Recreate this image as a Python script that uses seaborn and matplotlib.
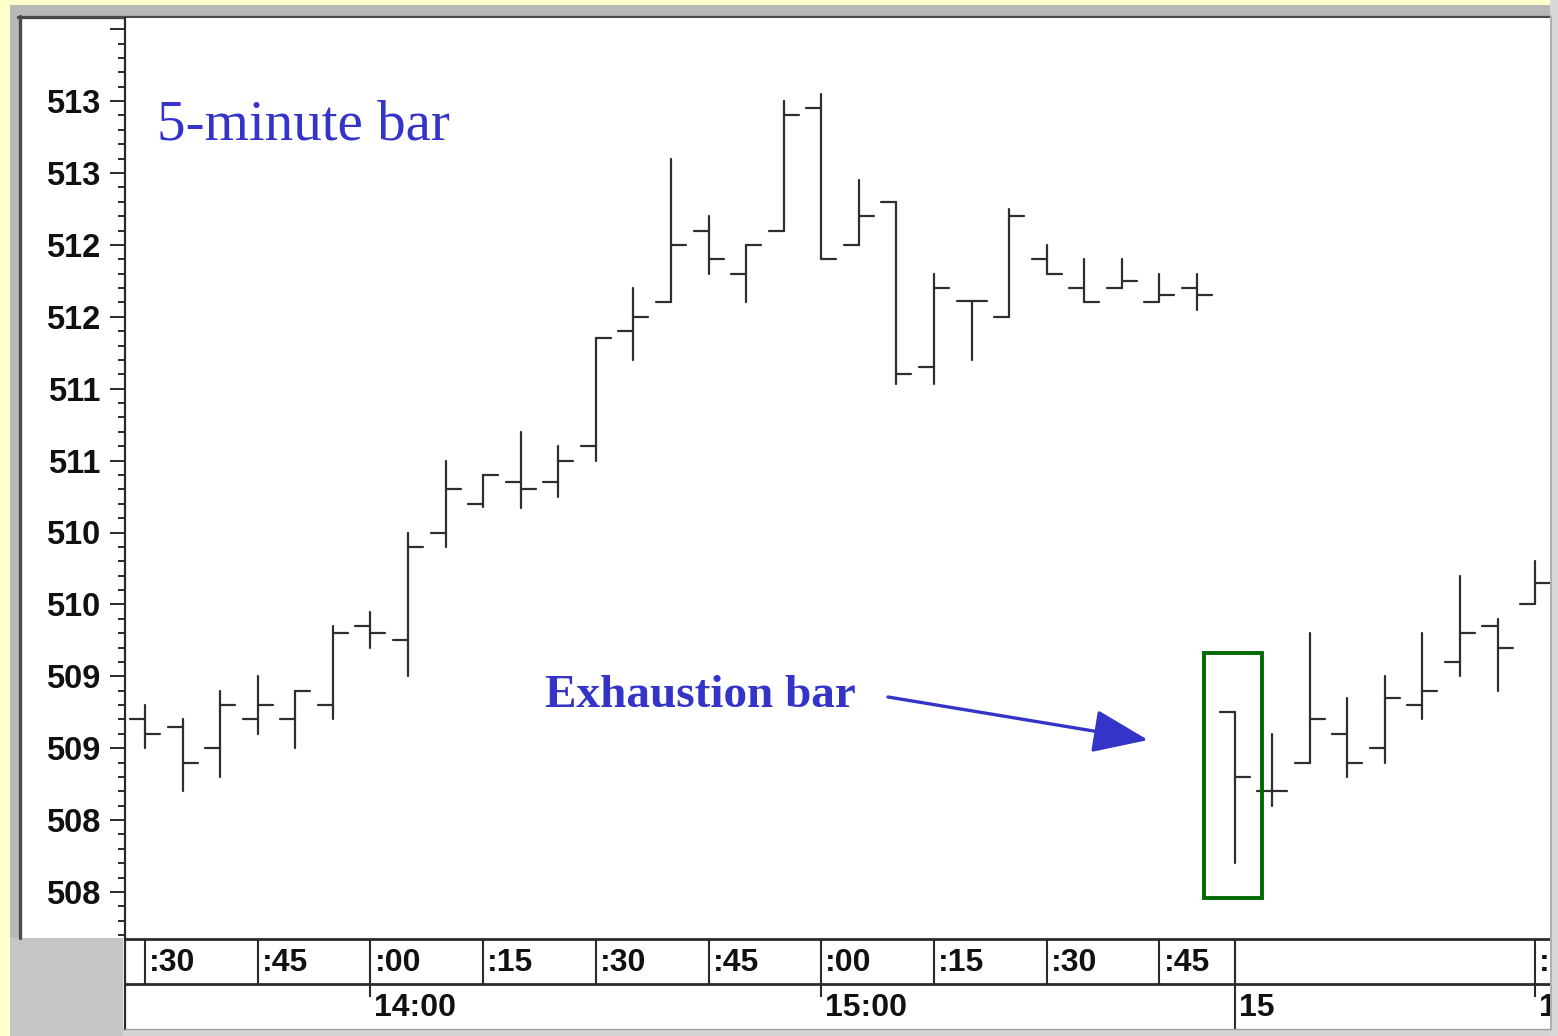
import numpy as np
import pandas as pd
import matplotlib
matplotlib.use("Agg")
import matplotlib.pyplot as plt
from matplotlib.patches import Rectangle
from matplotlib.lines import Line2D
from matplotlib.ticker import MultipleLocator
from matplotlib import transforms
import seaborn as sns

# ---- 5-minute OHLC bars (two sessions, second one starts at bar 29) ----
opens = [508.95, 508.90, 508.75, 508.95, 508.95, 509.05, 509.60, 509.50, 510.25, 510.45,
         510.60, 510.60, 510.85, 511.65, 511.85, 512.35, 512.05, 512.35, 513.20, 512.25,
         512.55, 511.40, 511.86, 511.75, 512.15, 511.95, 511.95, 511.85, 511.95,
         509.00, 508.45, 508.65, 508.85, 508.75, 509.05, 509.35, 509.60, 509.75]
highs = [509.05, 508.95, 509.15, 509.25, 509.15, 509.60, 509.70, 510.25, 510.75, 510.65,
         510.95, 510.85, 511.60, 511.95, 512.85, 512.45, 512.25, 513.25, 513.30, 512.70,
         512.55, 512.05, 511.86, 512.50, 512.25, 512.15, 512.15, 512.05, 512.05,
         509.00, 508.85, 509.55, 509.10, 509.25, 509.55, 509.95, 509.65, 510.05]
lows = [508.75, 508.45, 508.55, 508.85, 508.75, 508.95, 509.45, 509.25, 510.15, 510.43,
        510.42, 510.50, 510.75, 511.45, 511.85, 512.05, 511.85, 512.35, 512.15, 512.25,
        511.28, 511.28, 511.45, 511.75, 512.05, 511.85, 511.95, 511.85, 511.80,
        507.95, 508.35, 508.65, 508.55, 508.65, 508.95, 509.25, 509.15, 509.75]
closes = [508.85, 508.65, 509.05, 509.05, 509.15, 509.55, 509.55, 510.15, 510.55, 510.65,
          510.55, 510.75, 511.60, 511.75, 512.25, 512.15, 512.25, 513.15, 512.15, 512.45,
          511.35, 511.95, 511.86, 512.45, 512.05, 511.85, 512.00, 511.90, 511.90,
          508.55, 508.45, 508.95, 508.65, 509.10, 509.15, 509.55, 509.45, 509.90]

exhaustion_bar = 29

# price axis ticks
ytick_values = [507.75, 508.25, 508.75, 509.25, 509.75, 510.25, 510.75, 511.25,
                511.75, 512.25, 512.75, 513.25, 513.75]
ytick_labels = ["508", "508", "509", "509", "510", "510", "511", "511",
                "512", "512", "513", "513", ""]

# time axis: upper row (quarter hours) and lower row (hours / date);
# the last column sits at the window edge, only its first character shows
minute_ticks = [0, 3, 6, 9, 12, 15, 18, 21, 24, 27, 29, 37]
minute_labels = [":30", ":45", ":00", ":15", ":30", ":45", ":00", ":15", ":30", ":45", "", ":"]
hour_ticks = [6, 18, 29, 37]
hour_labels = ["14:00", "15:00", "15", "1"]
session_breaks = [29]

# ---- styling ----
sns.set_theme(style="white")
plt.rcParams["font.family"] = ["Liberation Sans", "DejaVu Sans"]

W, H = 1558, 1036
BAR_COLOR = "#2e2e2e"
NOTE_BLUE = "#3434C8"
FRAME_DARK = "#4a4a4a"
LABEL_COLOR = "#111111"


def fx(px):
    return px / W


def fy(py):
    return 1 - py / H


fig = plt.figure(figsize=(W / 100, H / 100), dpi=100)
fig.patch.set_facecolor("#FFFFCC")

# window frame behind everything
fig.add_artist(Rectangle((fx(10), fy(1036)), fx(1558) - fx(10), fy(5) - fy(1036),
                         transform=fig.transFigure, facecolor="#B8B8B8", edgecolor="none", zorder=-10))
fig.add_artist(Rectangle((fx(20), fy(938)), fx(1550) - fx(20), fy(18) - fy(938),
                         transform=fig.transFigure, facecolor="white", edgecolor="none", zorder=-9))
fig.add_artist(Rectangle((fx(123), fy(1029)), fx(1550) - fx(123), fy(938) - fy(1029),
                         transform=fig.transFigure, facecolor="white", edgecolor="none", zorder=-9))
fig.add_artist(Rectangle((fx(10), fy(1036)), fx(123) - fx(10), fy(938) - fy(1036),
                         transform=fig.transFigure, facecolor="#C6C6C6", edgecolor="none", zorder=-8))
fig.add_artist(Rectangle((fx(123), fy(1036)), fx(1558) - fx(123), fy(1029) - fy(1036),
                         transform=fig.transFigure, facecolor="#D4D4D4", edgecolor="none", zorder=-8))
fig.add_artist(Line2D([fx(18), fx(1550)], [fy(16.5), fy(16.5)], transform=fig.transFigure,
                      color=FRAME_DARK, lw=2.4, zorder=-7))
fig.add_artist(Line2D([fx(19.5), fx(19.5)], [fy(16), fy(938)], transform=fig.transFigure,
                      color=FRAME_DARK, lw=2.4, zorder=-7))

# ---- price panel ----
ax = fig.add_axes([fx(125), fy(938), fx(1550) - fx(125), fy(18) - fy(938)])
ax.set_facecolor("white")

idx = np.arange(len(opens))
TICK = 0.4

# each bar becomes three short segments: high-low range, open tick, close tick
seg_rows = []
for i in idx:
    seg_rows += [(f"r{i}", i, lows[i]), (f"r{i}", i, highs[i])]
    seg_rows += [(f"o{i}", i - TICK, opens[i]), (f"o{i}", i, opens[i])]
    seg_rows += [(f"c{i}", i, closes[i]), (f"c{i}", i + TICK, closes[i])]
segs = pd.DataFrame(seg_rows, columns=["seg", "x", "price"])

sns.lineplot(data=segs, x="x", y="price", units="seg", estimator=None, sort=False,
             color=BAR_COLOR, lw=1.6, legend=False, ax=ax)

x_left = (125 - 145) / 37.57
x_right = (1550 - 145) / 37.57
ax.set_xlim(x_left, x_right)
ax.set_ylim(507.75 - 46 / 143.8, 507.75 + 874 / 143.8)

ax.set_xlabel("")
ax.set_ylabel("")
ax.set_xticks([])
ax.set_yticks(ytick_values)
ax.set_yticklabels(ytick_labels, fontweight="bold")
ax.yaxis.set_minor_locator(MultipleLocator(0.1, offset=0.05))
ax.tick_params(axis="y", which="major", direction="out", length=10.5, width=1.4,
               pad=7, labelsize=23.5, colors="#2a2a2a", labelcolor=LABEL_COLOR, left=True)
ax.tick_params(axis="y", which="minor", direction="out", length=5, width=1.4,
               colors="#2a2a2a", left=True)
for side in ["top", "right", "bottom"]:
    ax.spines[side].set_visible(False)
ax.spines["left"].set_color("#2a2a2a")
ax.spines["left"].set_linewidth(1.6)

# exhaustion bar highlight
bx = exhaustion_bar
box_lo = lows[bx] - 0.24
box_hi = highs[bx] + 0.41
ax.add_patch(Rectangle((bx - 0.82, box_lo), 1.54, box_hi - box_lo,
                       facecolor="none", edgecolor="#006A00", lw=2.8, zorder=5))

# annotations
fig.text(fx(157), fy(139), "5-minute bar", family=["Liberation Serif", "DejaVu Serif"],
         fontsize=41, color=NOTE_BLUE, ha="left", va="baseline")
fig.text(fx(545), fy(707), "Exhaustion bar", family=["Liberation Serif", "DejaVu Serif"],
         fontsize=34, fontweight="bold", color=NOTE_BLUE, ha="left", va="baseline")
ax.annotate("", xy=(fx(1148), fy(740)), xycoords="figure fraction",
            xytext=(fx(888), fy(697)), textcoords="figure fraction",
            arrowprops=dict(arrowstyle="-|>,head_length=1.15,head_width=0.45",
                            mutation_scale=30, lw=2.4, color=NOTE_BLUE,
                            shrinkA=0, shrinkB=0))

# ---- two-row time scale ----
axt = fig.add_axes([fx(125), fy(1029), fx(1550) - fx(125), fy(939) - fy(1029)])
axt.set_facecolor("white")
axt.set_xlim(x_left, x_right)
axt.set_ylim(0, 2)
axt.set_xticks([])
axt.set_yticks([])
axt.spines["right"].set_visible(False)
axt.spines["top"].set_color("#2a2a2a")
axt.spines["top"].set_linewidth(2.0)
axt.spines["left"].set_color("#2a2a2a")
axt.spines["left"].set_linewidth(1.6)
axt.spines["bottom"].set_color("#A0A0A0")
axt.spines["bottom"].set_linewidth(1.0)
axt.axhline(1, color="#2a2a2a", lw=2.0)

sep_color = "#2a2a2a"
axt.vlines(minute_ticks, 1, 2, color=sep_color, lw=1.5)
axt.vlines([t for t in hour_ticks if t not in session_breaks], 0.72, 1, color=sep_color, lw=1.5)
axt.vlines(session_breaks, 0, 2, color=sep_color, lw=1.5)

label_shift = transforms.offset_copy(axt.transData, fig=fig, x=4, y=0, units="dots")
for pos, lab in zip(minute_ticks, minute_labels):
    axt.text(pos, 1.46, lab, transform=label_shift, ha="left", va="center",
             fontsize=23, fontweight="bold", color=LABEL_COLOR)
for pos, lab in zip(hour_ticks, hour_labels):
    axt.text(pos, 0.47, lab, transform=label_shift, ha="left", va="center",
             fontsize=23, fontweight="bold", color=LABEL_COLOR)

# right window edge drawn over the panels
fig.add_artist(Rectangle((fx(1550), 0), 1 - fx(1550), 1, transform=fig.transFigure,
                         facecolor="#D8D8D8", edgecolor="none", zorder=20))
fig.add_artist(Line2D([fx(1551), fx(1551)], [fy(16), fy(1030)], transform=fig.transFigure,
                      color="#A8A8A8", lw=1.2, zorder=21))

fig.savefig("out.png", dpi=100, facecolor=fig.get_facecolor())
